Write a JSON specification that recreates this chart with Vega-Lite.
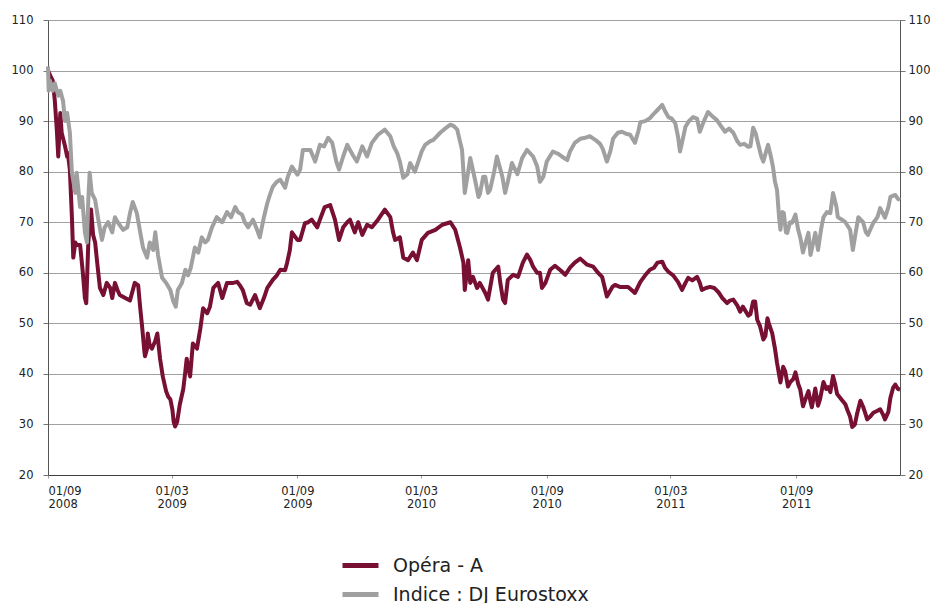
{
  "$schema": "https://vega.github.io/schema/vega-lite/v6.json",
  "autosize": "none",
  "width": 852,
  "height": 455,
  "padding": {"left": 48, "top": 20, "right": 33, "bottom": 128},
  "background": "white",
  "config": {
    "view": {"stroke": null},
    "axis": {"labelFont": "DejaVu Sans", "labelColor": "#222", "domainColor": "#555", "tickColor": "#777"}
  },
  "datasets": {
    "opera": [
      {"d":"2008-09-01","v":100},{"d":"2008-09-05","v":98.8},{"d":"2008-09-08","v":98},{"d":"2008-09-11","v":94},{"d":"2008-09-14","v":88},{"d":"2008-09-16","v":83},{"d":"2008-09-19","v":91.6},{"d":"2008-09-21","v":87.7},{"d":"2008-09-26","v":85},{"d":"2008-09-29","v":83},{"d":"2008-09-30","v":83.7},
      {"d":"2008-10-03","v":80.4},{"d":"2008-10-06","v":71},{"d":"2008-10-08","v":63},{"d":"2008-10-11","v":66},{"d":"2008-10-13","v":65.5},{"d":"2008-10-18","v":65.5},{"d":"2008-10-22","v":60},{"d":"2008-10-25","v":55},{"d":"2008-10-27","v":54},{"d":"2008-10-30","v":66},
      {"d":"2008-11-03","v":72.5},{"d":"2008-11-06","v":67.5},{"d":"2008-11-09","v":66},{"d":"2008-11-12","v":62},{"d":"2008-11-16","v":57},{"d":"2008-11-21","v":55.6},{"d":"2008-11-26","v":58},
      {"d":"2008-12-01","v":57},{"d":"2008-12-04","v":55},{"d":"2008-12-08","v":58},{"d":"2008-12-12","v":56.5},{"d":"2008-12-15","v":55.6},{"d":"2008-12-23","v":55},{"d":"2008-12-30","v":54.5},
      {"d":"2009-01-06","v":58},{"d":"2009-01-11","v":57.5},{"d":"2009-01-14","v":53},{"d":"2009-01-17","v":49},{"d":"2009-01-20","v":44.5},{"d":"2009-01-21","v":43.5},{"d":"2009-01-24","v":45},{"d":"2009-01-25","v":48},{"d":"2009-01-28","v":45.5},{"d":"2009-01-31","v":45},
      {"d":"2009-02-05","v":46.5},{"d":"2009-02-08","v":48},{"d":"2009-02-12","v":43},{"d":"2009-02-16","v":39.5},{"d":"2009-02-21","v":36.5},{"d":"2009-02-24","v":35.5},{"d":"2009-02-27","v":35},
      {"d":"2009-03-02","v":33},{"d":"2009-03-04","v":30.5},{"d":"2009-03-06","v":29.6},{"d":"2009-03-09","v":30.5},{"d":"2009-03-13","v":34},{"d":"2009-03-18","v":37},{"d":"2009-03-21","v":40.5},{"d":"2009-03-23","v":43},{"d":"2009-03-28","v":39.5},
      {"d":"2009-04-01","v":46},{"d":"2009-04-07","v":45},{"d":"2009-04-12","v":49},{"d":"2009-04-16","v":53},{"d":"2009-04-22","v":52},{"d":"2009-04-26","v":53.3},
      {"d":"2009-05-01","v":57},{"d":"2009-05-08","v":58},{"d":"2009-05-14","v":55},{"d":"2009-05-21","v":58},{"d":"2009-05-30","v":58},
      {"d":"2009-06-05","v":58.2},{"d":"2009-06-09","v":57.5},{"d":"2009-06-13","v":56.6},{"d":"2009-06-19","v":54},{"d":"2009-06-24","v":53.7},
      {"d":"2009-07-01","v":55.6},{"d":"2009-07-08","v":53},{"d":"2009-07-14","v":55},{"d":"2009-07-19","v":57},{"d":"2009-07-27","v":58.6},
      {"d":"2009-08-02","v":59.5},{"d":"2009-08-07","v":60.6},{"d":"2009-08-14","v":60.5},{"d":"2009-08-17","v":62},{"d":"2009-08-21","v":64.5},{"d":"2009-08-24","v":68},
      {"d":"2009-09-01","v":66.5},{"d":"2009-09-05","v":66.5},{"d":"2009-09-12","v":69.8},{"d":"2009-09-17","v":70},{"d":"2009-09-22","v":70.5},{"d":"2009-09-30","v":69},
      {"d":"2009-10-04","v":70.5},{"d":"2009-10-11","v":73},{"d":"2009-10-19","v":73.4},{"d":"2009-10-26","v":70.5},
      {"d":"2009-11-01","v":66.5},{"d":"2009-11-07","v":69},{"d":"2009-11-13","v":70},{"d":"2009-11-17","v":70.5},{"d":"2009-11-24","v":68},{"d":"2009-11-29","v":70},
      {"d":"2009-12-05","v":67.5},{"d":"2009-12-12","v":69.5},{"d":"2009-12-19","v":69},{"d":"2009-12-28","v":70.5},
      {"d":"2010-01-07","v":72.5},{"d":"2010-01-15","v":71},{"d":"2010-01-19","v":68},{"d":"2010-01-22","v":66.5},{"d":"2010-01-29","v":67},
      {"d":"2010-02-03","v":63},{"d":"2010-02-10","v":62.5},{"d":"2010-02-17","v":64},{"d":"2010-02-23","v":62.5},
      {"d":"2010-03-02","v":66.5},{"d":"2010-03-11","v":67.9},{"d":"2010-03-22","v":68.5},
      {"d":"2010-04-01","v":69.5},{"d":"2010-04-13","v":70},{"d":"2010-04-20","v":68.5},{"d":"2010-04-27","v":65},
      {"d":"2010-05-02","v":62},{"d":"2010-05-04","v":56.6},{"d":"2010-05-09","v":62.5},{"d":"2010-05-12","v":58},{"d":"2010-05-16","v":59.2},{"d":"2010-05-22","v":57},{"d":"2010-05-26","v":58},
      {"d":"2010-06-03","v":56},{"d":"2010-06-07","v":54.7},{"d":"2010-06-14","v":60},{"d":"2010-06-22","v":61.2},{"d":"2010-06-25","v":58},{"d":"2010-06-29","v":54.7},
      {"d":"2010-07-02","v":54},{"d":"2010-07-06","v":58.6},{"d":"2010-07-14","v":59.6},{"d":"2010-07-21","v":59.2},{"d":"2010-07-28","v":62},
      {"d":"2010-08-03","v":63.6},{"d":"2010-08-08","v":62.5},{"d":"2010-08-12","v":61.2},{"d":"2010-08-18","v":60},{"d":"2010-08-22","v":60},{"d":"2010-08-25","v":57},{"d":"2010-08-30","v":58},
      {"d":"2010-09-06","v":60.6},{"d":"2010-09-13","v":61.4},{"d":"2010-09-21","v":60.5},{"d":"2010-09-28","v":59.6},
      {"d":"2010-10-05","v":61},{"d":"2010-10-12","v":62},{"d":"2010-10-20","v":62.8},{"d":"2010-10-30","v":61.6},
      {"d":"2010-11-08","v":61.2},{"d":"2010-11-15","v":60},{"d":"2010-11-21","v":59.2},{"d":"2010-11-25","v":57},{"d":"2010-11-28","v":55.3},
      {"d":"2010-12-06","v":57.2},{"d":"2010-12-10","v":57.6},{"d":"2010-12-17","v":57.2},{"d":"2010-12-25","v":57.2},{"d":"2010-12-29","v":57.2},
      {"d":"2011-01-04","v":56.5},{"d":"2011-01-08","v":56},{"d":"2011-01-16","v":58.2},{"d":"2011-01-23","v":59.5},{"d":"2011-01-30","v":60.6},
      {"d":"2011-02-05","v":61},{"d":"2011-02-10","v":62},{"d":"2011-02-17","v":62.2},{"d":"2011-02-21","v":61},{"d":"2011-02-26","v":60.2},
      {"d":"2011-03-05","v":59.5},{"d":"2011-03-12","v":58.2},{"d":"2011-03-18","v":56.6},{"d":"2011-03-23","v":58},{"d":"2011-03-27","v":59},
      {"d":"2011-04-02","v":58.5},{"d":"2011-04-09","v":59.2},{"d":"2011-04-13","v":58},{"d":"2011-04-16","v":56.6},{"d":"2011-04-22","v":57},{"d":"2011-04-28","v":57.2},
      {"d":"2011-05-04","v":57},{"d":"2011-05-10","v":56.2},{"d":"2011-05-16","v":55},{"d":"2011-05-23","v":54},{"d":"2011-05-27","v":54.5},
      {"d":"2011-06-01","v":54.7},{"d":"2011-06-07","v":53.5},{"d":"2011-06-11","v":52.3},{"d":"2011-06-15","v":53.3},{"d":"2011-06-23","v":51.5},{"d":"2011-06-26","v":51.8},{"d":"2011-06-30","v":54.3},
      {"d":"2011-07-03","v":54.3},{"d":"2011-07-06","v":50.7},{"d":"2011-07-10","v":49.5},{"d":"2011-07-15","v":46.8},{"d":"2011-07-18","v":47.5},{"d":"2011-07-21","v":51},{"d":"2011-07-23","v":50},{"d":"2011-07-28","v":48},
      {"d":"2011-08-01","v":45},{"d":"2011-08-04","v":42.2},{"d":"2011-08-09","v":38.3},{"d":"2011-08-13","v":41.4},{"d":"2011-08-16","v":40.5},{"d":"2011-08-20","v":37.5},{"d":"2011-08-23","v":38.3},{"d":"2011-08-28","v":39},{"d":"2011-08-31","v":40.3},
      {"d":"2011-09-04","v":38},{"d":"2011-09-07","v":36.9},{"d":"2011-09-11","v":33.6},{"d":"2011-09-16","v":35.5},{"d":"2011-09-19","v":36.6},{"d":"2011-09-22","v":34.5},{"d":"2011-09-24","v":33.4},{"d":"2011-09-29","v":37.1},
      {"d":"2011-10-03","v":33.7},{"d":"2011-10-06","v":35},{"d":"2011-10-11","v":38.4},{"d":"2011-10-15","v":37},{"d":"2011-10-18","v":37.4},{"d":"2011-10-21","v":36.4},{"d":"2011-10-25","v":39.6},{"d":"2011-10-28","v":38},{"d":"2011-10-31","v":36},
      {"d":"2011-11-06","v":35},{"d":"2011-11-12","v":34},{"d":"2011-11-16","v":32.5},{"d":"2011-11-19","v":31.5},{"d":"2011-11-22","v":29.5},{"d":"2011-11-26","v":30},{"d":"2011-11-29","v":32},
      {"d":"2011-12-04","v":34.7},{"d":"2011-12-08","v":33.5},{"d":"2011-12-11","v":32.3},{"d":"2011-12-14","v":31},{"d":"2011-12-18","v":31.5},{"d":"2011-12-23","v":32.3},{"d":"2011-12-29","v":32.7},
      {"d":"2012-01-02","v":33},{"d":"2012-01-06","v":32},{"d":"2012-01-09","v":31},{"d":"2012-01-14","v":32.5},{"d":"2012-01-17","v":35.3},{"d":"2012-01-21","v":37.3},{"d":"2012-01-24","v":37.9},{"d":"2012-01-28","v":37},{"d":"2012-01-31","v":36.9}
    ],
    "indice": [
      {"d":"2008-09-01","v":100.8},{"d":"2008-09-02","v":96},{"d":"2008-09-04","v":98},{"d":"2008-09-08","v":96},{"d":"2008-09-11","v":97.5},{"d":"2008-09-16","v":95},{"d":"2008-09-19","v":96},{"d":"2008-09-23","v":94},{"d":"2008-09-26","v":90},{"d":"2008-09-29","v":91.6},
      {"d":"2008-10-03","v":87.7},{"d":"2008-10-06","v":79.8},{"d":"2008-10-11","v":75.8},{"d":"2008-10-13","v":79.8},{"d":"2008-10-18","v":73},{"d":"2008-10-21","v":75},{"d":"2008-10-25","v":68},{"d":"2008-10-28","v":66},{"d":"2008-10-30","v":74.4},
      {"d":"2008-11-01","v":79.8},{"d":"2008-11-04","v":75.8},{"d":"2008-11-09","v":74.4},{"d":"2008-11-13","v":71},{"d":"2008-11-19","v":66.5},{"d":"2008-11-23","v":69},{"d":"2008-11-28","v":70},
      {"d":"2008-12-04","v":68},{"d":"2008-12-08","v":71},{"d":"2008-12-12","v":70},{"d":"2008-12-20","v":68.5},{"d":"2008-12-26","v":69},{"d":"2008-12-30","v":71.8},
      {"d":"2009-01-03","v":74},{"d":"2009-01-09","v":71.8},{"d":"2009-01-14","v":68},{"d":"2009-01-18","v":65},{"d":"2009-01-24","v":63},{"d":"2009-01-28","v":66},
      {"d":"2009-02-02","v":64.5},{"d":"2009-02-05","v":68},{"d":"2009-02-09","v":63.5},{"d":"2009-02-15","v":59},{"d":"2009-02-21","v":58},{"d":"2009-02-27","v":56.6},
      {"d":"2009-03-03","v":54.5},{"d":"2009-03-07","v":53.3},{"d":"2009-03-10","v":56.6},{"d":"2009-03-16","v":58},{"d":"2009-03-21","v":60.6},{"d":"2009-03-25","v":59.5},{"d":"2009-03-29","v":61},
      {"d":"2009-04-01","v":63},{"d":"2009-04-04","v":65},{"d":"2009-04-09","v":64},{"d":"2009-04-14","v":67},{"d":"2009-04-19","v":66},{"d":"2009-04-23","v":66.5},{"d":"2009-04-29","v":69},
      {"d":"2009-05-06","v":71},{"d":"2009-05-14","v":70},{"d":"2009-05-21","v":72},{"d":"2009-05-27","v":71},
      {"d":"2009-06-02","v":73},{"d":"2009-06-06","v":72},{"d":"2009-06-12","v":71.5},{"d":"2009-06-16","v":70},{"d":"2009-06-21","v":69},{"d":"2009-06-28","v":70.5},
      {"d":"2009-07-04","v":68.5},{"d":"2009-07-08","v":67},{"d":"2009-07-14","v":71},{"d":"2009-07-19","v":73.8},{"d":"2009-07-23","v":75.5},{"d":"2009-07-27","v":77},
      {"d":"2009-08-02","v":78},{"d":"2009-08-07","v":78.4},{"d":"2009-08-14","v":76.8},{"d":"2009-08-18","v":79},{"d":"2009-08-24","v":81},
      {"d":"2009-09-01","v":79.4},{"d":"2009-09-05","v":80.4},{"d":"2009-09-09","v":84.3},{"d":"2009-09-15","v":84.3},{"d":"2009-09-20","v":84.3},{"d":"2009-09-27","v":82},
      {"d":"2009-10-04","v":85.3},{"d":"2009-10-10","v":85},{"d":"2009-10-16","v":86.7},{"d":"2009-10-22","v":85.7},{"d":"2009-10-28","v":82},
      {"d":"2009-11-01","v":80.4},{"d":"2009-11-07","v":83},{"d":"2009-11-13","v":85.3},{"d":"2009-11-21","v":83.3},{"d":"2009-11-27","v":82},
      {"d":"2009-12-05","v":85},{"d":"2009-12-12","v":83},{"d":"2009-12-19","v":85.7},{"d":"2009-12-28","v":87.3},
      {"d":"2010-01-07","v":88.3},{"d":"2010-01-15","v":87},{"d":"2010-01-20","v":85},{"d":"2010-01-25","v":83.7},{"d":"2010-01-29","v":82},
      {"d":"2010-02-03","v":78.8},{"d":"2010-02-09","v":79.5},{"d":"2010-02-13","v":81.7},{"d":"2010-02-20","v":80},{"d":"2010-02-25","v":82},
      {"d":"2010-03-02","v":84},{"d":"2010-03-07","v":85.3},{"d":"2010-03-14","v":86},{"d":"2010-03-19","v":86.3},{"d":"2010-03-24","v":87},{"d":"2010-03-29","v":87.7},
      {"d":"2010-04-05","v":88.5},{"d":"2010-04-13","v":89.3},{"d":"2010-04-18","v":89},{"d":"2010-04-23","v":88.3},{"d":"2010-04-27","v":86},{"d":"2010-04-30","v":84.3},
      {"d":"2010-05-04","v":75.8},{"d":"2010-05-09","v":80},{"d":"2010-05-12","v":82.7},{"d":"2010-05-19","v":78.4},{"d":"2010-05-24","v":75},{"d":"2010-05-26","v":75.5},{"d":"2010-05-31","v":79},
      {"d":"2010-06-03","v":79},{"d":"2010-06-07","v":75.8},{"d":"2010-06-10","v":76.4},{"d":"2010-06-16","v":80},{"d":"2010-06-20","v":83},{"d":"2010-06-28","v":79},
      {"d":"2010-07-02","v":75.8},{"d":"2010-07-06","v":78},{"d":"2010-07-12","v":81.7},{"d":"2010-07-20","v":79.5},{"d":"2010-07-27","v":82.7},
      {"d":"2010-08-03","v":84.3},{"d":"2010-08-12","v":83},{"d":"2010-08-18","v":81},{"d":"2010-08-22","v":78},{"d":"2010-08-27","v":79},
      {"d":"2010-09-01","v":82},{"d":"2010-09-10","v":84},{"d":"2010-09-18","v":83.5},{"d":"2010-09-23","v":83},
      {"d":"2010-10-01","v":82.3},{"d":"2010-10-05","v":84},{"d":"2010-10-12","v":85.7},{"d":"2010-10-20","v":86.5},{"d":"2010-10-27","v":86.7},
      {"d":"2010-11-03","v":87},{"d":"2010-11-11","v":86.3},{"d":"2010-11-18","v":85.5},{"d":"2010-11-22","v":84.5},{"d":"2010-11-28","v":82},
      {"d":"2010-12-03","v":84},{"d":"2010-12-07","v":86.5},{"d":"2010-12-14","v":87.7},{"d":"2010-12-20","v":87.9},{"d":"2010-12-26","v":87.5},
      {"d":"2011-01-01","v":87.3},{"d":"2011-01-08","v":85.7},{"d":"2011-01-13","v":88},{"d":"2011-01-16","v":89.8},{"d":"2011-01-23","v":90},{"d":"2011-01-30","v":90.6},
      {"d":"2011-02-05","v":91.5},{"d":"2011-02-10","v":92.2},{"d":"2011-02-17","v":93.2},{"d":"2011-02-21","v":92},{"d":"2011-02-26","v":90.8},
      {"d":"2011-03-03","v":90.5},{"d":"2011-03-08","v":89.6},{"d":"2011-03-12","v":87},{"d":"2011-03-15","v":84},{"d":"2011-03-20","v":87},{"d":"2011-03-23","v":88.9},{"d":"2011-03-28","v":90},
      {"d":"2011-04-03","v":90.8},{"d":"2011-04-09","v":90.5},{"d":"2011-04-13","v":87.9},{"d":"2011-04-19","v":90},{"d":"2011-04-25","v":91.8},
      {"d":"2011-05-01","v":91},{"d":"2011-05-08","v":90.2},{"d":"2011-05-14","v":89},{"d":"2011-05-20","v":87.9},{"d":"2011-05-26","v":88.5},
      {"d":"2011-06-01","v":87.7},{"d":"2011-06-07","v":86},{"d":"2011-06-11","v":85.3},{"d":"2011-06-17","v":85.5},{"d":"2011-06-23","v":84.9},{"d":"2011-06-26","v":85},{"d":"2011-06-30","v":88.7},
      {"d":"2011-07-04","v":87.5},{"d":"2011-07-07","v":85.7},{"d":"2011-07-12","v":83},{"d":"2011-07-15","v":82},{"d":"2011-07-19","v":84},{"d":"2011-07-22","v":85.3},{"d":"2011-07-26","v":83},{"d":"2011-07-29","v":81},
      {"d":"2011-08-01","v":78},{"d":"2011-08-04","v":76.4},{"d":"2011-08-07","v":71},{"d":"2011-08-09","v":68.5},{"d":"2011-08-12","v":72},{"d":"2011-08-14","v":71.8},{"d":"2011-08-17","v":68},{"d":"2011-08-19","v":67.9},{"d":"2011-08-23","v":70},{"d":"2011-08-26","v":69.9},{"d":"2011-08-31","v":71.5},
      {"d":"2011-09-04","v":68.5},{"d":"2011-09-07","v":67},{"d":"2011-09-11","v":64},{"d":"2011-09-16","v":66.5},{"d":"2011-09-19","v":67.9},{"d":"2011-09-22","v":63.5},{"d":"2011-09-26","v":66},{"d":"2011-09-29","v":67.9},
      {"d":"2011-10-03","v":64.5},{"d":"2011-10-08","v":69},{"d":"2011-10-11","v":71},{"d":"2011-10-16","v":72},{"d":"2011-10-21","v":71.8},{"d":"2011-10-25","v":75.8},{"d":"2011-10-30","v":73},
      {"d":"2011-11-01","v":71},{"d":"2011-11-07","v":70.5},{"d":"2011-11-12","v":70},{"d":"2011-11-19","v":68.5},{"d":"2011-11-23","v":64.5},{"d":"2011-11-26","v":67},
      {"d":"2011-12-01","v":71},{"d":"2011-12-08","v":70},{"d":"2011-12-12","v":68},{"d":"2011-12-15","v":67.5},{"d":"2011-12-23","v":69.9},{"d":"2011-12-29","v":71},
      {"d":"2012-01-02","v":72.8},{"d":"2012-01-09","v":70.9},{"d":"2012-01-14","v":73},{"d":"2012-01-17","v":75},{"d":"2012-01-24","v":75.4},{"d":"2012-01-28","v":74.6},{"d":"2012-01-31","v":74.4}
    ]
  },
  "layer": [
    {
      "data": {"name": "opera"},
      "mark": {"type": "line", "strokeWidth": 4, "strokeJoin": "round"},
      "encoding": {
        "x": {
          "field": "d", "type": "temporal",
          "scale": {"type": "utc", "domain": [{"year": 2008, "month": 9, "date": 1, "utc": true}, {"year": 2012, "month": 1, "date": 31, "utc": true}]},
          "axis": {
            "title": null, "grid": false, "tickSize": 3, "labelPadding": 7, "labelFontSize": 11.5, "labelDx": 7,
            "labelLineHeight": 13, "labelAngle": 0, "labelBaseline": "top", "domainColor": "#404040", "tickColor": "#999",
            "values": [
              {"year": 2008, "month": 9, "date": 1, "utc": true},
              {"year": 2009, "month": 3, "date": 1, "utc": true},
              {"year": 2009, "month": 9, "date": 1, "utc": true},
              {"year": 2010, "month": 3, "date": 1, "utc": true},
              {"year": 2010, "month": 9, "date": 1, "utc": true},
              {"year": 2011, "month": 3, "date": 1, "utc": true},
              {"year": 2011, "month": 9, "date": 1, "utc": true}
            ],
            "labelExpr": "[utcFormat(datum.value, '%d/%m'), utcFormat(datum.value, '%Y')]"
          }
        },
        "y": {
          "field": "v", "type": "quantitative",
          "scale": {"domain": [20, 110], "nice": false, "zero": false},
          "axis": {"title": null, "orient": "left", "values": [20,30,40,50,60,70,80,90,100,110], "grid": true, "gridColor": "#a0a0a0", "gridWidth": 1, "tickSize": 5, "labelPadding": 10, "labelFontSize": 11.5}
        },
        "color": {
          "datum": "Opéra - A", "type": "nominal",
          "scale": {"domain": ["Opéra - A", "Indice : DJ Eurostoxx"], "range": ["#781034", "#a0a0a0"]},
          "legend": {
            "title": null, "orient": "none", "legendX": 298, "legendY": 531,
            "symbolType": "M-1.5,0H1.5", "symbolStrokeWidth": 5, "symbolSize": 576,
            "labelFont": "DejaVu Sans", "labelFontSize": 19, "labelColor": "#222", "labelOffset": 18, "labelLimit": 400, "rowPadding": 4
          }
        }
      }
    },
    {
      "data": {"name": "indice"},
      "mark": {"type": "line", "strokeWidth": 4, "strokeJoin": "round"},
      "encoding": {
        "x": {"field": "d", "type": "temporal"},
        "y": {
          "field": "v", "type": "quantitative",
          "axis": {"title": null, "orient": "right", "values": [20,30,40,50,60,70,80,90,100,110], "grid": false, "tickSize": 5, "labelPadding": 3, "labelFontSize": 11.5}
        },
        "color": {"datum": "Indice : DJ Eurostoxx", "type": "nominal"}
      }
    }
  ],
  "resolve": {"axis": {"y": "independent"}}
}
